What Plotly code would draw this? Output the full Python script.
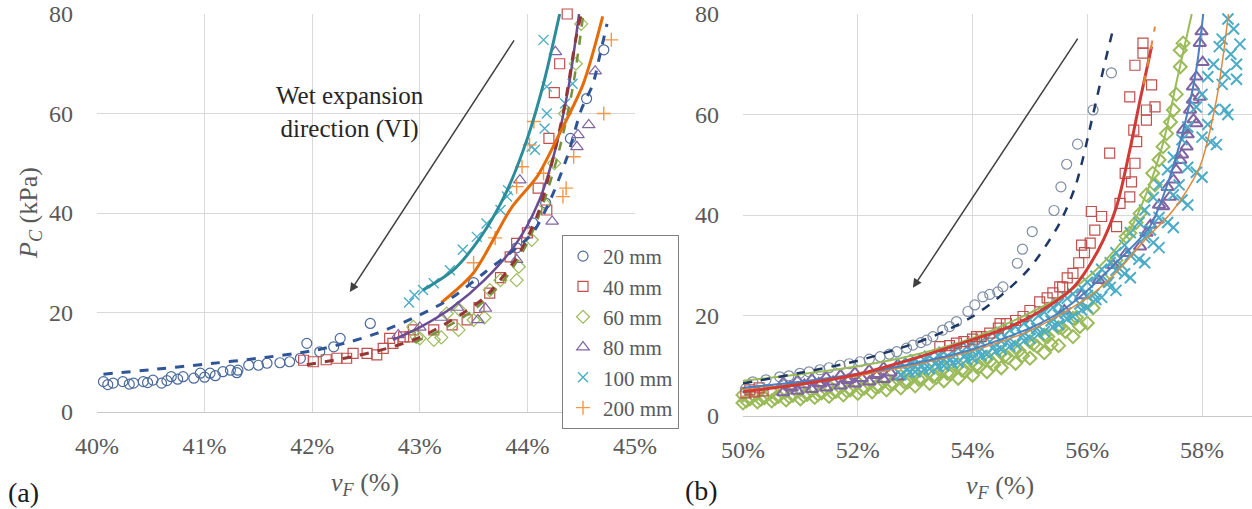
import plotly.graph_objects as go

# ---------------- panel (a): measured points, v_F in %, P_C in kPa ----------------
a20_v = [40.06, 40.10, 40.15, 40.24, 40.30, 40.34, 40.43, 40.47, 40.52, 40.60, 40.65, 40.69, 40.75,
         40.80, 40.90, 40.96, 41.00, 41.05, 41.10, 41.17, 41.24, 41.30, 41.31, 41.41, 41.50, 41.58,
         41.70, 41.79, 41.89, 41.95, 42.07, 42.20, 42.26, 42.54, 43.50, 43.90, 44.05, 44.17, 44.40,
         44.55, 44.71]
a20_P = [6.1, 5.5, 5.8, 6.1, 5.6, 5.8, 6.1, 5.9, 6.4, 5.8, 6.3, 7.1, 6.6,
         7.1, 6.8, 7.8, 7.0, 7.8, 7.3, 8.1, 8.4, 7.9, 8.4, 9.4, 9.4, 9.8,
         9.9, 10.1, 10.8, 13.8, 12.1, 13.1, 14.8, 17.8, 26.0, 33.0, 38.0, 42.0, 55.0,
         63.0, 72.8]

a40_v = [41.92, 42.01, 42.13, 42.23, 42.32, 42.38, 42.51, 42.60, 42.66, 42.72, 42.75, 42.85, 42.91,
         42.94, 43.13, 43.30, 43.44, 43.55, 43.65, 43.75, 43.84, 43.90, 44.00, 44.10, 44.18, 44.20,
         44.25, 44.30, 44.37]
a40_P = [10.4, 10.1, 10.5, 10.8, 10.8, 11.8, 11.8, 11.5, 12.8, 14.8, 13.8, 15.1, 15.1,
         16.5, 16.5, 17.5, 18.5, 21.0, 23.9, 27.0, 31.2, 33.9, 36.0, 45.0, 40.6, 55.0,
         64.2, 70.0, 80.0]

a60_v = [42.94, 42.97, 43.00, 43.13, 43.20, 43.25, 43.36, 43.37, 43.50, 43.60, 43.65, 43.75, 43.90,
         43.92, 44.04, 44.15, 44.25, 44.35, 44.45, 44.50]
a60_P = [17.1, 15.1, 14.8, 14.5, 15.0, 19.8, 16.5, 20.5, 18.5, 19.0, 24.5, 26.5, 26.5,
         29.2, 34.6, 42.0, 50.0, 60.0, 70.0, 78.0]

a80_v = [42.80, 43.00, 43.20, 43.35, 43.54, 43.61, 43.90, 43.93, 44.23, 44.26, 44.46, 44.47, 44.57,
         44.63]
a80_P = [15.5, 17.0, 19.0, 21.0, 18.5, 20.8, 30.6, 46.6, 38.3, 72.4, 53.3, 55.7, 57.7,
         68.5]

a100_v = [42.90, 42.95, 43.03, 43.13, 43.28, 43.40, 43.53, 43.62, 43.75, 43.81, 43.82, 44.04, 44.07,
          44.15, 44.16, 44.18, 44.18, 44.35, 44.42]
a100_P = [22.0, 23.5, 24.5, 25.9, 28.5, 32.6, 35.2, 37.9, 40.6, 43.3, 44.6, 53.3, 52.7,
          74.8, 57.0, 60.0, 65.4, 62.0, 66.0]

a200_v = [43.50, 43.70, 43.90, 43.95, 44.02, 44.06, 44.15, 44.33, 44.36, 44.43, 44.71, 44.78]
a200_P = [30.0, 35.0, 45.3, 49.3, 53.7, 58.4, 48.0, 43.3, 45.0, 51.3, 60.0, 74.8]

# panel (a): fitted curves
fa20_v = [40.06, 40.5, 41.0, 41.5, 42.0, 42.3, 42.6, 43.0, 43.3, 43.6, 43.9, 44.05, 44.2, 44.37,
          44.5, 44.61, 44.67, 44.74]
fa20_P = [7.6, 8.5, 9.6, 10.8, 12.3, 13.8, 15.8, 19.5, 23.0, 28.0, 33.0, 36.0, 42.0, 51.3,
          60.7, 66.0, 71.4, 78.0]
fa40_v = [41.95, 42.3, 42.7, 43.0, 43.3, 43.6, 43.9, 44.1, 44.25, 44.35, 44.45, 44.5]
fa40_P = [9.5, 10.8, 12.8, 15.0, 18.5, 23.0, 31.0, 40.0, 52.0, 62.0, 75.0, 80.0]
fa60_v = [42.95, 43.2, 43.5, 43.8, 44.0, 44.15, 44.3, 44.42, 44.52]
fa60_P = [14.0, 16.5, 20.5, 27.0, 34.0, 42.0, 53.0, 65.0, 80.0]
fa80_v = [42.75, 43.0, 43.3, 43.6, 43.9, 44.1, 44.25, 44.38, 44.48]
fa80_P = [14.5, 17.0, 21.0, 26.5, 34.0, 42.0, 52.0, 65.0, 80.0]
fa100_v = [43.03, 43.31, 43.56, 43.8, 44.0, 44.15, 44.3]
fa100_P = [24.5, 28.5, 35.0, 44.0, 55.0, 66.0, 80.0]
fa200_v = [43.2, 43.5, 43.85, 44.09, 44.3, 44.52, 44.7]
fa200_P = [22.0, 28.0, 41.0, 47.3, 56.0, 66.0, 79.5]

# ---------------- panel (b): measured points ----------------
b20_v = [50.05, 50.17, 50.40, 50.64, 50.80, 50.99, 51.15, 51.34, 51.50, 51.69, 51.85, 52.04, 52.20,
         52.39, 52.55, 52.68, 52.85, 52.96, 53.10, 53.20, 53.31, 53.48, 53.60, 53.72, 53.92, 54.04,
         54.18, 54.30, 54.44, 54.53, 54.78, 54.87, 55.04, 55.42, 55.54, 55.64, 55.83, 56.10, 56.42]
b20_P = [5.5, 6.8, 7.2, 7.8, 8.0, 8.5, 8.8, 9.2, 9.6, 10.1, 10.4, 10.8, 11.3,
         11.8, 12.3, 12.8, 13.5, 14.1, 14.6, 15.1, 15.8, 17.1, 17.8, 18.8, 20.8, 22.1,
         23.7, 24.2, 24.7, 25.7, 30.4, 33.2, 36.7, 40.9, 45.6, 50.1, 54.1, 60.9, 68.3]

b40_v = [50.05, 50.12, 50.20, 50.28, 50.35, 53.43, 53.60, 53.72, 53.85, 54.00, 54.07, 54.15, 54.30,
         54.45, 54.48, 54.59, 54.75, 54.88, 55.00, 55.17, 55.30, 55.40, 55.52, 55.57, 55.65, 55.75,
         55.85, 55.90, 55.95, 56.05, 56.13, 56.07, 56.25, 56.51, 56.57, 56.74, 56.77, 56.66, 56.83,
         56.39, 56.86, 56.81, 57.03, 57.03, 57.18, 56.74, 57.12, 56.83, 56.97, 56.97]
b40_P = [4.6, 5.2, 4.8, 5.6, 5.0, 13.8, 14.0, 14.5, 14.8, 15.3, 15.8, 15.8, 16.5,
         17.5, 18.4, 18.4, 19.0, 19.8, 21.0, 22.7, 23.5, 24.5, 25.7, 25.7, 27.5, 28.4,
         30.5, 34.0, 32.5, 34.4, 37.0, 40.7, 39.7, 37.7, 42.3, 43.6, 46.6, 48.3, 50.3,
         52.3, 54.6, 56.9, 58.9, 60.9, 61.5, 63.5, 65.9, 69.8, 72.2, 74.2]

b60_v = [50.00, 50.00, 50.25, 50.25, 50.50, 50.50, 50.75, 50.75, 51.00, 51.00, 51.25, 51.25, 51.50,
         51.50, 51.75, 51.75, 52.00, 52.00, 52.25, 52.25, 52.50, 52.50, 52.75, 52.75, 53.00, 53.00,
         53.25, 53.25, 53.50, 53.50, 53.75, 53.75, 54.00, 54.00, 54.25, 54.25, 54.50, 54.50, 54.75,
         54.75, 55.00, 55.00, 55.25, 55.25, 55.50, 55.50, 55.75, 55.75, 56.00, 56.00,
         50.12, 50.62, 51.12, 51.62, 52.12, 52.62, 53.12, 53.62, 54.12, 54.62, 55.12, 55.62,
         50.37, 50.87, 51.37, 51.87, 52.37, 52.87, 53.37, 53.87, 54.37, 54.87, 55.37, 55.87,
         50.06, 50.31, 50.56, 50.81, 51.06, 51.31, 51.56, 51.81, 52.06, 52.31, 52.56, 52.81, 53.06,
         53.31, 53.56, 53.81, 54.06, 54.31, 54.56, 54.81, 55.06, 55.31, 55.56, 55.81, 56.10,
         56.30, 56.50, 56.68, 56.74, 56.85, 56.92, 57.03, 57.14, 57.18, 57.25, 57.32, 57.38, 57.45,
         57.50, 57.55, 57.62, 57.62, 57.67]
b60_P = [2.6, 4.2, 2.8, 4.5, 3.0, 4.8, 3.2, 5.0, 3.4, 5.3, 3.7, 5.6, 3.9,
         5.9, 4.2, 6.2, 4.5, 6.6, 4.8, 7.0, 5.2, 7.4, 5.6, 7.9, 6.0, 8.4,
         6.5, 8.9, 7.0, 9.5, 7.5, 10.2, 8.1, 10.9, 8.8, 11.7, 9.6, 12.6, 10.5,
         13.6, 11.5, 14.8, 12.6, 16.1, 14.0, 17.6, 15.8, 19.4, 18.5, 22.5,
         3.4, 3.9, 4.3, 4.9, 5.6, 6.5, 7.4, 8.4, 9.8, 11.6, 13.9, 16.8,
         3.6, 4.1, 4.6, 5.2, 5.9, 6.8, 7.7, 8.9, 10.2, 12.0, 14.3, 17.8,
         3.0, 3.3, 3.5, 3.8, 4.0, 4.3, 4.6, 5.0, 5.4, 5.8, 6.3, 6.8, 7.3,
         7.9, 8.5, 9.2, 10.0, 10.9, 11.9, 13.0, 14.3, 15.8, 17.5, 19.6, 21.5,
         27.0, 31.0, 35.7, 36.4, 38.5, 40.3, 44.0, 48.3, 46.0, 51.0, 53.6, 56.2, 58.5,
         60.9, 64.0, 69.5, 72.8, 74.2]

b80_v = [50.70, 50.70, 50.95, 50.95, 51.20, 51.20, 51.45, 51.45, 51.70, 51.70, 51.95, 51.95, 52.20,
         52.20, 52.45, 52.45, 52.70, 52.70, 50.82, 51.07, 51.32, 51.57, 51.82, 52.07, 52.32, 52.57,
         50.85, 51.35, 51.85, 52.35,
         55.60, 55.90, 56.20, 56.45, 56.68, 56.92, 57.03, 57.10, 57.21, 57.25, 57.32, 57.40, 57.44,
         57.50, 57.55, 57.62, 57.65, 57.73, 57.67, 57.75, 57.85, 57.90, 57.79, 57.84, 57.96, 57.84,
         57.90, 58.01, 57.96, 57.99]
b80_P = [4.7, 6.6, 5.0, 7.0, 5.3, 7.3, 5.6, 7.7, 6.0, 8.1, 6.4, 8.6, 6.8,
         9.1, 7.3, 9.6, 7.8, 10.2, 5.8, 6.2, 6.5, 6.8, 7.1, 7.5, 8.1, 8.6,
         5.6, 6.4, 7.3, 8.3,
         21.0, 24.0, 27.0, 30.0, 32.4, 33.7, 36.4, 38.0, 39.0, 42.0, 41.7, 45.5, 43.6,
         47.0, 49.0, 50.9, 52.0, 53.6, 56.9, 56.0, 59.0, 58.2, 60.9, 62.9, 63.5, 65.5,
         67.5, 70.4, 74.2, 76.5]

b100_v = [52.75, 52.75, 53.00, 53.00, 53.25, 53.25, 53.50, 53.50, 53.75, 53.75, 54.00, 54.00, 54.25,
          54.25, 54.50, 54.50, 54.75, 54.75, 55.00, 55.00, 55.25, 55.25, 55.50, 55.50, 55.75, 55.75,
          56.00, 56.00, 56.25, 56.25, 56.50, 56.50, 56.75, 56.75, 57.00, 57.00, 57.25, 57.25, 57.50,
          57.50, 57.75, 57.75, 58.00, 58.00, 58.25, 58.20, 58.45, 58.35, 58.60, 58.45, 58.66,
          52.87, 53.12, 53.37, 53.62, 53.87, 54.12, 54.37, 54.62, 54.87, 55.12, 55.37, 55.62, 55.87,
          56.12, 56.37, 56.50, 56.75, 57.00, 57.25, 57.50, 57.75, 58.00, 58.20, 58.35, 58.50, 58.55,
          53.00, 53.50, 54.00, 54.50, 55.00, 55.50, 56.00, 56.60, 57.10, 57.60, 58.10, 58.40,
          52.90, 53.15, 53.40, 53.65, 53.90, 54.15, 54.40, 54.65, 54.90, 55.15, 55.40, 55.65, 55.90,
          56.15, 56.40, 56.65, 56.90, 57.15, 57.40, 57.65, 57.90, 58.15, 58.40, 58.60,
          52.90, 53.15, 53.40, 53.65, 53.90, 54.15, 54.40, 54.65, 54.90, 55.15, 55.40, 55.65, 55.90,
          56.15, 56.40, 56.65, 56.90, 57.15, 57.40, 57.65, 57.90, 58.10, 58.30]
b100_P = [8.2, 10.5, 8.8, 11.2, 9.4, 11.9, 10.0, 12.7, 10.7, 13.5, 11.5, 14.4, 12.3,
          15.4, 13.3, 16.6, 14.3, 17.8, 15.5, 19.2, 16.8, 20.7, 18.2, 22.4, 19.8, 24.3,
          21.6, 26.6, 23.6, 29.2, 25.0, 32.5, 27.5, 36.5, 30.5, 41.0, 33.5, 46.0, 37.5,
          51.5, 42.0, 57.5, 47.5, 64.0, 54.0, 70.0, 60.0, 75.0, 67.0, 79.0, 74.0,
          9.3, 10.0, 10.6, 11.3, 12.1, 12.9, 13.8, 15.0, 16.1, 17.4, 18.9, 20.5, 22.3,
          24.3, 26.6, 29.0, 32.0, 35.5, 39.5, 44.0, 49.5, 55.5, 61.0, 66.0, 72.0, 77.0,
          9.9, 11.3, 12.9, 14.9, 17.2, 20.1, 24.0, 30.0, 37.0, 46.0, 58.0, 68.0,
          8.7, 9.2, 9.8, 10.5, 11.2, 12.0, 12.9, 13.9, 15.0, 16.3, 17.7, 19.3, 21.1,
          23.2, 25.6, 28.3, 31.2, 34.5, 38.5, 43.0, 48.5, 54.5, 61.0, 70.0,
          10.6, 11.3, 12.1, 12.9, 13.8, 14.8, 15.9, 17.1, 18.5, 20.0, 21.6, 23.4, 25.5,
          27.8, 30.5, 34.0, 38.5, 43.5, 49.0, 55.0, 61.5, 67.5, 73.5]

# panel (b): fitted curves
fb20_v = [50.0, 51.0, 52.0, 53.0, 53.5, 54.0, 54.5, 55.0, 55.5, 55.8, 56.1, 56.3, 56.45]
fb20_P = [6.5, 8.6, 11.0, 14.5, 16.8, 19.8, 24.0, 29.5, 38.0, 46.0, 60.0, 70.0, 77.0]
fb40_v = [50.0, 51.0, 52.0, 53.0, 54.0, 54.59, 55.17, 55.75, 56.19, 56.51, 56.74, 56.92, 57.12]
fb40_P = [4.8, 6.3, 8.3, 11.5, 15.2, 17.5, 20.8, 25.5, 33.0, 41.7, 52.9, 62.9, 73.5]
fb40_ext_v = [56.98, 57.08, 57.18]
fb40_ext_P = [66.0, 71.5, 77.5]
fb60_v = [50.0, 51.0, 52.0, 53.0, 54.0, 55.0, 55.5, 56.0, 56.4, 56.71, 57.03, 57.32, 57.55, 57.82]
fb60_P = [7.0, 8.3, 9.9, 12.2, 15.5, 20.5, 23.5, 27.5, 32.0, 36.4, 44.3, 54.3, 66.2, 80.0]
fb80_v = [50.0, 51.0, 52.0, 53.0, 54.0, 55.0, 55.5, 56.0, 56.5, 57.09, 57.44, 57.73, 57.9, 58.02]
fb80_P = [5.6, 6.8, 8.4, 10.5, 13.3, 17.5, 20.5, 25.0, 30.5, 37.7, 47.6, 59.6, 69.0, 80.0]
fb100_v = [50.0, 51.0, 52.0, 53.0, 54.0, 55.0, 56.0, 56.5, 57.0, 57.5, 57.96, 58.25, 58.46]
fb100_P = [5.2, 6.4, 8.0, 10.2, 13.0, 17.0, 23.5, 28.5, 35.0, 41.0, 49.6, 62.9, 80.0]

sizes = ["20 mm", "40 mm", "60 mm", "80 mm", "100 mm", "200 mm"]
y_ticks = [0, 20, 40, 60, 80]

SERIF = "Liberation Serif"
GRAY_TXT = "#595959"
GRID = "#D9D9D9"

W, H = 1252, 509
# plot-area pixel boxes (left, top, right, bottom)
BOX_A = (97, 14, 635, 412)
BOX_B = (743, 14, 1252, 416)


def dom(box):
    l, t, r, b = box
    return [l / W, r / W], [1 - b / H, 1 - t / H]


fig = go.Figure()


def pts(v, p, name, symbol, color, axes, show, size=8, lw=1.2):
    fig.add_trace(go.Scatter(
        x=v, y=p, mode="markers", name=name, legendgroup=name, showlegend=show,
        xaxis=axes[0], yaxis=axes[1], cliponaxis=False,
        marker=dict(symbol=symbol, size=size, color=color, line=dict(color=color, width=lw)),
    ))


def fit(v, p, color, width, dash, axes):
    fig.add_trace(go.Scatter(
        x=v, y=p, mode="lines", showlegend=False, xaxis=axes[0], yaxis=axes[1],
        line=dict(color=color, width=width, dash=dash, shape="spline", smoothing=0.8),
        hoverinfo="skip",
    ))


A = ("x", "y")
B = ("x2", "y2")

# panel (a) markers
pts(a20_v, a20_P, sizes[0], "circle-open", "#4A6A9B", A, True, size=10)
pts(a40_v, a40_P, sizes[1], "square-open", "#C0504D", A, True, size=10)
pts(a60_v, a60_P, sizes[2], "diamond-open", "#9BBB59", A, True, size=10)
pts(a80_v, a80_P, sizes[3], "triangle-up-open", "#8064A2", A, True, size=11)
pts(a100_v, a100_P, sizes[4], "x-thin-open", "#4BACC6", A, True, size=10, lw=1.4)
pts(a200_v, a200_P, sizes[5], "cross-thin-open", "#F79646", A, True, size=10, lw=1.4)

# panel (a) fitted curves
fit(fa60_v, fa60_P, "#76923C", 2.5, "dash", A)
fit(fa80_v, fa80_P, "#6A4C93", 2.5, "solid", A)
fit(fa40_v, fa40_P, "#943634", 3.0, "dash", A)
fit(fa100_v, fa100_P, "#2C8C99", 3.0, "solid", A)
fit(fa200_v, fa200_P, "#E46C0A", 3.0, "solid", A)
fit(fa20_v, fa20_P, "#2F5597", 3.0, "dash", A)

# panel (b) markers
pts(b60_v, b60_P, sizes[2], "diamond-open", "#9BBB59", B, False, size=10, lw=2)
pts(b80_v, b80_P, sizes[3], "triangle-up-open", "#8064A2", B, False, size=11, lw=2)
pts(b100_v, b100_P, sizes[4], "x-thin-open", "#4BACC6", B, False, size=11, lw=2)
pts(b40_v, b40_P, sizes[1], "square-open", "#C0504D", B, False, size=10)
pts(b20_v, b20_P, sizes[0], "circle-open", "#7D8CA3", B, False, size=10)

# panel (b) fitted curves
fit(fb100_v, fb100_P, "#E0893A", 1.5, "solid", B)
fit(fb80_v, fb80_P, "#4A7FC0", 2.0, "solid", B)
fit(fb60_v, fb60_P, "#9BBB59", 2.0, "solid", B)
fit(fb40_v, fb40_P, "#D03B35", 3.0, "solid", B)
fit(fb40_ext_v, fb40_ext_P, "#E0893A", 2.0, "dash", B)
fit(fb20_v, fb20_P, "#1F3864", 2.5, "dash", B)

xa, ya = dom(BOX_A)
xb, yb = dom(BOX_B)

tickfont = dict(family=SERIF, size=24, color=GRAY_TXT)
common_x = dict(showgrid=True, gridcolor=GRID, gridwidth=1, zeroline=False, showline=True,
                linecolor="#C8C8C8", linewidth=1, ticks="", ticksuffix="%", tickfont=tickfont,
                ticklabelstandoff=12, automargin=False)
common_y = dict(showgrid=True, gridcolor=GRID, gridwidth=1, zeroline=False, showline=False,
                ticks="", tickfont=tickfont, range=[0, 80], tickvals=y_ticks,
                ticklabelstandoff=23, automargin=False)

fig.update_layout(
    width=W, height=H,
    margin=dict(l=0, r=0, t=0, b=0, autoexpand=False),
    paper_bgcolor="white", plot_bgcolor="white",
    xaxis=dict(domain=xa, range=[40, 45], dtick=1, tick0=40, anchor="y", **common_x),
    yaxis=dict(domain=ya, anchor="x", **common_y),
    xaxis2=dict(domain=xb, range=[50, 58.87], dtick=2, tick0=50, anchor="y2", **common_x),
    yaxis2=dict(domain=yb, anchor="x2", **common_y),
    showlegend=True,
    legend=dict(
        x=562 / W, y=1 - 235 / H, xanchor="left", yanchor="top",
        bgcolor="white", bordercolor="#7F7F7F", borderwidth=1,
        font=dict(family=SERIF, size=21, color=GRAY_TXT),
        tracegroupgap=0, itemwidth=30,
    ),
)

title_font = dict(family=SERIF, size=26, color=GRAY_TXT)
center = dict(xref="paper", yref="paper", showarrow=False, xanchor="center", yanchor="middle")
annotations = [
    dict(text="<i>P</i><sub><i>C</i></sub> (kPa)", x=30 / W, y=1 - 213 / H, textangle=-90,
         font=title_font, **center),
    dict(text="<i>v</i><sub><i>F</i></sub> (%)", x=365 / W, y=1 - 484 / H, font=title_font,
         **center),
    dict(text="<i>v</i><sub><i>F</i></sub> (%)", x=1000 / W, y=1 - 487 / H, font=title_font,
         **center),
    dict(text="(a)", x=23 / W, y=1 - 492 / H, font=dict(family=SERIF, size=28, color="#1a1a1a"),
         **center),
    dict(text="(b)", x=701 / W, y=1 - 490 / H, font=dict(family=SERIF, size=28, color="#1a1a1a"),
         **center),
    dict(text="Wet expansion<br>direction (VI)", x=350 / W, y=1 - 113 / H, align="center",
         font=dict(family=SERIF, size=25, color="#262626"), **center),
    # direction arrows
    dict(x=42.35, y=24.1, ax=43.885, ay=75.0, xref="x", yref="y", axref="x", ayref="y",
         text="", showarrow=True, arrowhead=2, arrowsize=1.2, arrowwidth=1.5, arrowcolor="#404040"),
    dict(x=52.96, y=25.5, ax=55.85, ay=75.4, xref="x2", yref="y2", axref="x2", ayref="y2",
         text="", showarrow=True, arrowhead=2, arrowsize=1.2, arrowwidth=1.5, arrowcolor="#404040"),
]
fig.update_layout(annotations=annotations)

fig.write_html("out.html")
